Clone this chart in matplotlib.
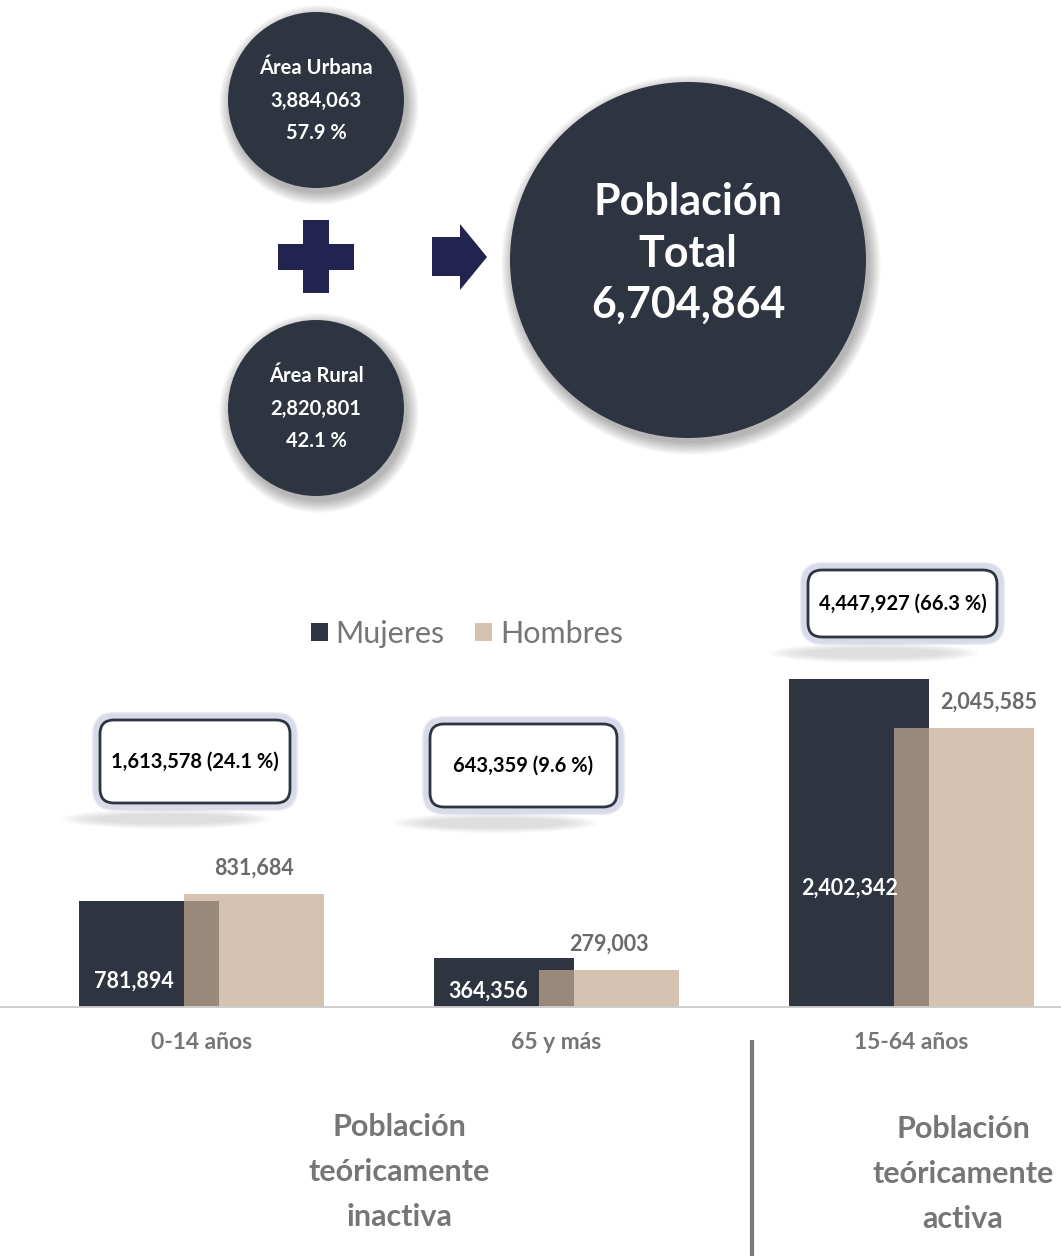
import numpy as np
import matplotlib
matplotlib.use("Agg")
import matplotlib.pyplot as plt
from matplotlib.patches import Circle, FancyBboxPatch, Polygon, Ellipse

plt.rcParams['font.family'] = ['Lato', 'DejaVu Sans']

# data
categories = ["0-14 años", "65 y más", "15-64 años"]
mujeres = [781894, 364356, 2402342]
hombres = [831684, 279003, 2045585]
group_totals = ["1,613,578 (24.1 %)", "643,359 (9.6 %)", "4,447,927 (66.3 %)"]

urbana = 3884063
rural = 2820801
total = 6704864
urbana_pct = 57.9
rural_pct = 42.1

# colours
DARK = "#2e3540"
NAVY = "#23234f"
HOMBRE = "#c5ab92"
GRAY_TXT = "#767676"

W, H = 1061, 1256
fig = plt.figure(figsize=(W / 100, H / 100), dpi=100)

# ---- bar chart (axes spans full width, baseline at y=1008 px)
base_px, top_px = 1008, 560
ax = fig.add_axes([0, (H - base_px) / H, 1, (base_px - top_px) / H])
px_per_val = 329 / 2402342
ax.set_ylim(0, (base_px - top_px) / px_per_val)
unit = 355.0
ax.set_xlim(-201.5 / unit, (W - 201.5) / unit)
x = np.arange(len(categories))
off, bw = 0.148, 0.392
ax.bar(x - off, mujeres, bw, color=DARK, label="Mujeres", zorder=2)
ax.bar(x + off, hombres, bw, color=HOMBRE, alpha=0.72, label="Hombres", zorder=3)
ax.axhline(0, color="#cdcdcd", lw=3.5, zorder=4)
for s in ax.spines.values():
    s.set_visible(False)
ax.set_yticks([])
ax.set_xticks(x)
ax.set_xticklabels(categories, fontsize=16.5, fontweight="bold", color=GRAY_TXT)
ax.tick_params(axis="x", length=0, pad=17.5)

# value labels
m_dx = [-15, -16, -9]
m_dy = [27, 17, 120]
h_dx = [0, 0, 25]
for i in range(len(categories)):
    ax.annotate(f"{mujeres[i]:,}", (x[i] - off, 0), xytext=(m_dx[i] * 0.72, m_dy[i] * 0.72),
                textcoords="offset points", ha="center", va="center",
                fontsize=15.5, fontweight="bold", color="white", zorder=5)
    ax.annotate(f"{hombres[i]:,}", (x[i] + off, hombres[i]), xytext=(h_dx[i] * 0.72, 26 * 0.72),
                textcoords="offset points", ha="center", va="center",
                fontsize=15.5, fontweight="bold", color="#6a6a6a", zorder=5)

leg = ax.legend(loc="center", bbox_to_anchor=(467 / W, 1 - 634 / H), bbox_transform=fig.transFigure,
                ncol=2, frameon=False, fontsize=22, handlelength=0.55, handleheight=0.55,
                handletextpad=0.25, columnspacing=1.0, labelcolor=GRAY_TXT)

# ---- overlay in pixel coordinates
ov = fig.add_axes([0, 0, 1, 1])
ov.set_xlim(0, W)
ov.set_ylim(H, 0)
ov.axis("off")
ov.patch.set_alpha(0)


def circle(cx, cy, r):
    for i in range(10):
        ov.add_patch(Circle((cx + 3, cy + 5), r + i * 1.3, color="black", alpha=0.03, lw=0))
    ov.add_patch(Circle((cx, cy), r, color=DARK, lw=0))


circle(316, 100, 88)
circle(316, 408, 88)
circle(688, 260, 178)

tkw = dict(ha="center", va="center", color="white", fontweight="bold")
ov.text(316, 68, "Área Urbana", fontsize=14.5, **tkw)
ov.text(316, 101, f"{urbana:,}", fontsize=14.5, **tkw)
ov.text(316, 133, f"{urbana_pct} %", fontsize=14.5, **tkw)
ov.text(316, 376, "Área Rural", fontsize=14.5, **tkw)
ov.text(316, 409, f"{rural:,}", fontsize=14.5, **tkw)
ov.text(316, 441, f"{rural_pct} %", fontsize=14.5, **tkw)
ov.text(688, 202, "Población", fontsize=31, **tkw)
ov.text(688, 254, "Total", fontsize=31, **tkw)
ov.text(688, 305, f"{total:,}", fontsize=31, **tkw)

# plus sign
ov.add_patch(Polygon([(303, 220), (329, 220), (329, 244), (354, 244), (354, 270), (329, 270),
                      (329, 293), (303, 293), (303, 270), (278, 270), (278, 244), (303, 244)],
                     closed=True, color=NAVY, lw=0))
# arrow
ov.add_patch(Polygon([(432, 237), (460, 237), (460, 224), (487, 257), (460, 290), (460, 276),
                      (432, 276)], closed=True, color=NAVY, lw=0))

# callout boxes
boxes = [(100, 720, 190, 83), (430, 724, 187, 83), (808, 570, 189, 67)]
for (bx, by, bwid, bh), txt in zip(boxes, group_totals):
    for i in range(6):
        ov.add_patch(Ellipse((bx + bwid * 0.35, by + bh + 16), bwid * 1.1 - i * 12, 20 - i * 2,
                             color="#9a9a9a", alpha=0.06, lw=0))
    for i in range(5):
        g = 1 + i * 1.4
        ov.add_patch(FancyBboxPatch((bx - g, by - g), bwid + 2 * g, bh + 2 * g,
                                    boxstyle=f"round,pad=0,rounding_size={14 + g}",
                                    fc="none", ec="#5a60a0", lw=2, alpha=0.12))
    ov.add_patch(FancyBboxPatch((bx, by), bwid, bh, boxstyle="round,pad=0,rounding_size=14",
                                fc="white", ec=DARK, lw=2))
    ov.text(bx + bwid / 2, by + bh / 2, txt, ha="center", va="center",
            fontsize=14.5, fontweight="bold", color="black")

# separator and group titles
ov.plot([752, 752], [1040, 1256], color="#7a7a7a", lw=3, solid_capstyle="butt")
for cx, lines, y0 in [(399, ["Población", "teóricamente", "inactiva"], 1127),
                      (963, ["Población", "teóricamente", "activa"], 1129)]:
    for k, line in enumerate(lines):
        ov.text(cx, y0 + k * 45, line, ha="center", va="center", fontsize=22,
                fontweight="bold", color=GRAY_TXT)

fig.savefig("out.png", dpi=100)
